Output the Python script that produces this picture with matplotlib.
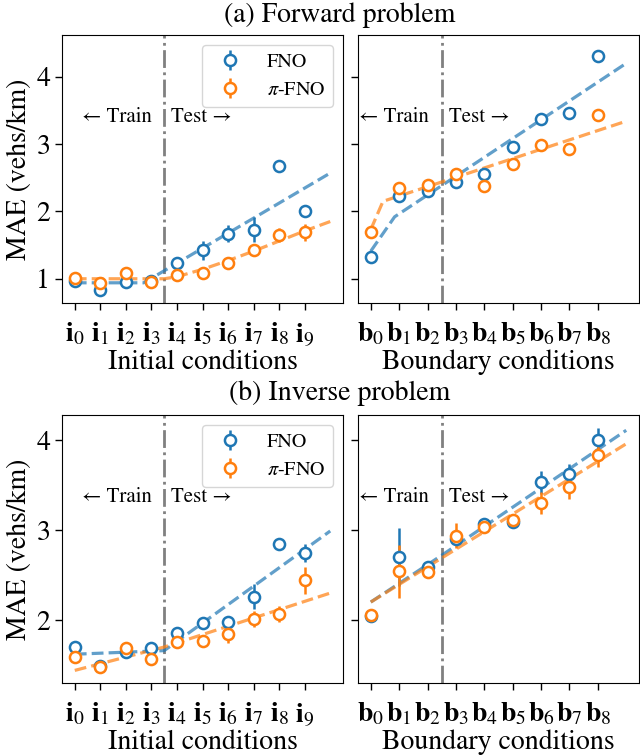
import matplotlib
matplotlib.use("Agg")
import matplotlib.pyplot as plt
import matplotlib.transforms as mtransforms
import numpy as np

plt.rcParams['font.family'] = ['STIXGeneral', 'DejaVu Serif']
plt.rcParams['mathtext.fontset'] = 'stix'

# ---------------- data ----------------
ic_labels = [r'$\mathbf{i}_{%d}$' % k for k in range(10)]
bc_labels = [r'$\mathbf{b}_{%d}$' % k for k in range(9)]

# (a) Forward problem - initial conditions
fwd_ic_fno = [0.96, 0.84, 0.95, 0.96, 1.24, 1.42, 1.67, 1.73, 2.68, 2.00]
fwd_ic_fno_err = [0.02, 0.02, 0.02, 0.02, 0.08, 0.14, 0.13, 0.19, 0.02, 0.02]
fwd_ic_pi = [1.01, 0.94, 1.09, 0.95, 1.06, 1.09, 1.24, 1.43, 1.65, 1.69]
fwd_ic_pi_err = [0.02, 0.02, 0.02, 0.02, 0.02, 0.02, 0.02, 0.08, 0.10, 0.13]
fwd_ic_fit_fno_x = [0, 2.7, 10]
fwd_ic_fit_fno_y = [0.94, 0.94, 2.57]
fwd_ic_fit_pi_x = [0, 3.5, 4, 5, 6, 7, 8, 9, 10]
fwd_ic_fit_pi_y = [1.00, 1.00, 1.03, 1.14, 1.27, 1.41, 1.56, 1.71, 1.85]

# (a) Forward problem - boundary conditions
fwd_bc_fno = [1.32, 2.23, 2.30, 2.43, 2.55, 2.96, 3.37, 3.46, 4.31]
fwd_bc_fno_err = [0.03, 0.03, 0.03, 0.03, 0.03, 0.03, 0.03, 0.03, 0.07]
fwd_bc_pi = [1.69, 2.35, 2.39, 2.56, 2.38, 2.71, 2.99, 2.92, 3.43]
fwd_bc_pi_err = [0.02, 0.02, 0.02, 0.02, 0.02, 0.02, 0.02, 0.02, 0.02]
fwd_bc_fit_fno_x = [0, 0.84, 9]
fwd_bc_fit_fno_y = [1.41, 1.92, 4.20]
fwd_bc_fit_pi_x = [0, 0.43, 9]
fwd_bc_fit_pi_y = [1.73, 2.15, 3.34]

# (b) Inverse problem - initial conditions
inv_ic_fno = [1.70, 1.49, 1.65, 1.69, 1.86, 1.97, 1.98, 2.26, 2.85, 2.75]
inv_ic_fno_err = [0.02, 0.02, 0.02, 0.02, 0.05, 0.06, 0.03, 0.14, 0.03, 0.10]
inv_ic_pi = [1.59, 1.48, 1.69, 1.57, 1.76, 1.77, 1.84, 2.01, 2.07, 2.44]
inv_ic_pi_err = [0.02, 0.02, 0.02, 0.02, 0.02, 0.02, 0.09, 0.09, 0.09, 0.15]
inv_ic_fit_fno_x = [0, 3.5, 10]
inv_ic_fit_fno_y = [1.62, 1.66, 2.99]
inv_ic_fit_pi_x = [0, 3.5, 10]
inv_ic_fit_pi_y = [1.44, 1.70, 2.30]

# (b) Inverse problem - boundary conditions
inv_bc_fno = [2.05, 2.70, 2.59, 2.90, 3.07, 3.09, 3.53, 3.62, 4.00]
inv_bc_fno_err = [0.03, 0.32, 0.04, 0.05, 0.04, 0.04, 0.13, 0.12, 0.14]
inv_bc_pi = [2.06, 2.54, 2.53, 2.94, 3.04, 3.11, 3.30, 3.48, 3.83]
inv_bc_pi_err = [0.03, 0.30, 0.05, 0.14, 0.04, 0.03, 0.12, 0.13, 0.13]
inv_bc_fit_fno_x = [0, 2.5, 9]
inv_bc_fit_fno_y = [2.20, 2.72, 4.11]
inv_bc_fit_pi_x = [0, 2.5, 9]
inv_bc_fit_pi_y = [2.20, 2.69, 3.96]

series_names = ['FNO', r'$\pi$-FNO']
ic_split = 3.5
bc_split = 2.5

# ---------------- style ----------------
C_FNO = '#1f77b4'
C_PI = '#ff7f0e'
FS = 20

fig = plt.figure(figsize=(6.4, 7.56), dpi=100)
W = 281 / 640
H = 268 / 756
ax_tl = fig.add_axes([62 / 640, 1 - 303 / 756, W, H])
ax_tr = fig.add_axes([358 / 640, 1 - 303 / 756, W, H], sharey=ax_tl)
ax_bl = fig.add_axes([62 / 640, 1 - 683 / 756, W, H])
ax_br = fig.add_axes([358 / 640, 1 - 683 / 756, W, H], sharey=ax_bl)


def panel(ax, labels, fno, fno_err, pi, pi_err, fx1, fy1, fx2, fy2, split,
          xlabel, legend=False):
    x = np.arange(len(labels))
    ax.plot(fx1, fy1, '--', color=C_FNO, lw=2.3, alpha=0.7, zorder=2)
    ax.plot(fx2, fy2, '--', color=C_PI, lw=2.3, alpha=0.7, zorder=2)
    ax.axvline(split, color='gray', ls='-.', lw=2.0, zorder=1)
    h1 = ax.errorbar(x, fno, yerr=fno_err, fmt='o', color=C_FNO, mfc='white',
                     mec=C_FNO, ms=8, mew=1.8, elinewidth=1.8, capsize=0,
                     label=series_names[0], zorder=3)
    h2 = ax.errorbar(x, pi, yerr=pi_err, fmt='o', color=C_PI, mfc='white',
                     mec=C_PI, ms=8, mew=1.8, elinewidth=1.8, capsize=0,
                     label=series_names[1], zorder=3)
    ax.set_xticks(x)
    ax.set_xticklabels(labels, fontsize=FS)
    ax.set_xlabel(xlabel, fontsize=FS, labelpad=1)
    ax.tick_params(axis='both', labelsize=FS, length=5, width=1.0)
    ax.tick_params(axis='x', pad=8)
    trans = mtransforms.blended_transform_factory(ax.transData, ax.transAxes)
    ax.annotate('\u2190 Train', xy=(split, 0.693), xycoords=trans,
                xytext=(-9, 0), textcoords='offset points',
                ha='right', va='center', fontsize=15)
    ax.annotate('Test \u2192', xy=(split, 0.693), xycoords=trans,
                xytext=(5, 0), textcoords='offset points',
                ha='left', va='center', fontsize=15)
    if legend:
        ax.legend(handles=[h1, h2], loc='upper right', fontsize=14.5,
                  borderaxespad=0.5)
    return ax


panel(ax_tl, ic_labels, fwd_ic_fno, fwd_ic_fno_err, fwd_ic_pi, fwd_ic_pi_err,
      fwd_ic_fit_fno_x, fwd_ic_fit_fno_y, fwd_ic_fit_pi_x, fwd_ic_fit_pi_y,
      ic_split, 'Initial conditions', legend=True)
panel(ax_tr, bc_labels, fwd_bc_fno, fwd_bc_fno_err, fwd_bc_pi, fwd_bc_pi_err,
      fwd_bc_fit_fno_x, fwd_bc_fit_fno_y, fwd_bc_fit_pi_x, fwd_bc_fit_pi_y,
      bc_split, 'Boundary conditions')
panel(ax_bl, ic_labels, inv_ic_fno, inv_ic_fno_err, inv_ic_pi, inv_ic_pi_err,
      inv_ic_fit_fno_x, inv_ic_fit_fno_y, inv_ic_fit_pi_x, inv_ic_fit_pi_y,
      ic_split, 'Initial conditions', legend=True)
panel(ax_br, bc_labels, inv_bc_fno, inv_bc_fno_err, inv_bc_pi, inv_bc_pi_err,
      inv_bc_fit_fno_x, inv_bc_fit_fno_y, inv_bc_fit_pi_x, inv_bc_fit_pi_y,
      bc_split, 'Boundary conditions')

ax_tl.set_ylim(0.64, 4.62)
ax_tl.set_yticks([1, 2, 3, 4])
ax_bl.set_ylim(1.30, 4.28)
ax_bl.set_yticks([2, 3, 4])
for ax in (ax_tl, ax_bl):
    ax.set_xlim(-0.5, 10.5)
    ax.set_ylabel('MAE (vehs/km)', fontsize=FS, labelpad=3)
for ax in (ax_tr, ax_br):
    ax.set_xlim(-0.45, 9.45)
    plt.setp(ax.get_yticklabels(), visible=False)

fig.text(340 / 640, 1 - 15 / 756, '(a) Forward problem', ha='center',
         va='center', fontsize=FS)
fig.text(340 / 640, 1 - 393 / 756, '(b) Inverse problem', ha='center',
         va='center', fontsize=FS)

fig.savefig('out.png', dpi=100)
